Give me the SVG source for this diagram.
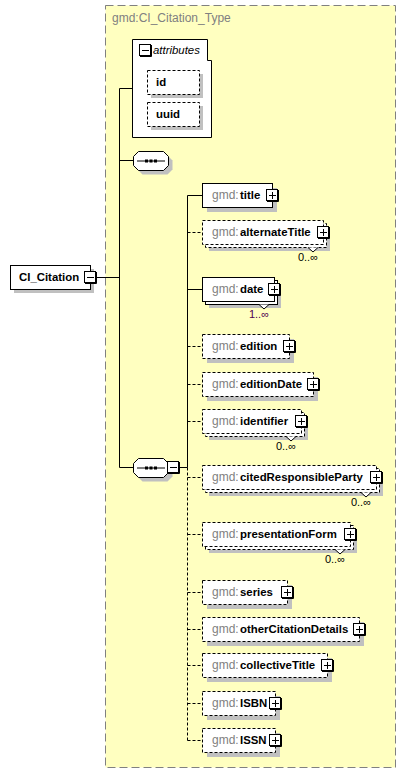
<svg xmlns="http://www.w3.org/2000/svg" xmlns:xlink="http://www.w3.org/1999/xlink" width="406" height="773" viewBox="0 0 406 773">
<style>
text{font-family:"Liberation Sans",Arial,sans-serif}
.sh{fill:#c0c0c0;stroke:none}
.box{fill:#fff;stroke:#000;stroke-width:1}
.dbox{fill:#fff;stroke:#000;stroke-width:1;stroke-dasharray:3,2}
.gmd{fill:#808080;font-size:12px}
.nm{fill:#000;font-size:11.4px;font-weight:bold}
.occ{fill:#000;font-size:11px}
.occ1{fill:#500050;font-size:11px}
.ln{stroke:#000;stroke-width:1;fill:none}
.dl{stroke:#000;stroke-width:1;fill:none;stroke-dasharray:3,2}
.v{fill:#fff;stroke:#000;stroke-width:1}
</style>
<defs>
<g id="plus">
<rect x="-5.5" y="-5.5" width="11" height="11" fill="#fff" stroke="#000"/>
<path d="M6.5,-5 V6.5 H-5" stroke="#000" fill="none"/>
<path d="M-3,0.5 H4 M0.5,-3 V4" stroke="#000" fill="none"/>
</g>
<g id="minus">
<rect x="-5.5" y="-5.5" width="11" height="11" fill="#fff" stroke="#000"/>
<path d="M6.5,-5 V6.5 H-5" stroke="#000" fill="none"/>
<path d="M-3,0.5 H4" stroke="#000" fill="none"/>
</g>
<path id="oct" d="M5.5,0.5 H30.5 L35.5,5.5 V14.5 L30.5,19.5 H5.5 L0.5,14.5 V5.5 Z"/>
<g id="seq">
<use xlink:href="#oct" x="4" y="4" fill="#c0c0c0"/>
<use xlink:href="#oct" fill="#fff" stroke="#000"/>
<path d="M4,10 H32" stroke="#000"/>
<rect x="12" y="8.5" width="3" height="3" fill="#000"/>
<rect x="16.5" y="8.5" width="3" height="3" fill="#000"/>
<rect x="21" y="8.5" width="3" height="3" fill="#000"/>
</g>
</defs>

<g id="type-container">
<rect x="105.5" y="5.5" width="290" height="762" fill="#ffffc0" stroke="#808080" stroke-dasharray="8,4"/>
<text x="112" y="22" class="gmd">gmd:CI_Citation_Type</text>
</g>

<g id="connectors">
<path class="ln" d="M96,277.5 H119.5 M119.5,88.5 V467.5 M119.5,88.5 H133 M119.5,160.5 H133 M119.5,467.5 H133 M178,467.5 H187.5 M187.5,195.5 V467.5"/>
<path class="dl" d="M187.5,467.5 V740.5"/>
<path class="ln" d="M187.5,195.5 H202 M187.5,289.5 H202"/>
<path class="dl" d="M187.5,232.5 H202 M187.5,346.5 H202 M187.5,384.5 H202 M187.5,421.5 H202 M187.5,477.5 H202 M187.5,534.5 H202 M187.5,592.5 H202 M187.5,629.5 H202 M187.5,665.5 H202 M187.5,703.5 H202 M187.5,740.5 H202"/>
</g>

<g id="CI_Citation">
<rect class="sh" x="14" y="269" width="80" height="24"/>
<rect class="box" x="10.5" y="265.5" width="80" height="24"/>
<text x="19" y="281" class="nm">CI_Citation</text>
<use xlink:href="#minus" x="90" y="277"/>
</g>

<g id="attributes">
<path d="M132.5,39.5 H207.5 V60.5 H211.5 V137.5 H132.5 Z" fill="#fff" stroke="#000"/>
<use xlink:href="#minus" x="145" y="50"/>
<text x="153" y="54" font-size="11.4" font-style="italic" fill="#000">attributes</text>
</g>
<g id="attr-id">
<rect class="sh" x="151" y="74" width="52" height="24"/>
<rect class="dbox" x="147.5" y="70.5" width="52" height="24"/>
<text x="156" y="86" class="nm">id</text>
</g>
<g id="attr-uuid">
<rect class="sh" x="151" y="106" width="52" height="24"/>
<rect class="dbox" x="147.5" y="102.5" width="52" height="24"/>
<text x="156" y="118" class="nm">uuid</text>
</g>

<g id="sequence1">
<use xlink:href="#seq" x="133" y="151"/>
</g>
<g id="sequence2">
<use xlink:href="#seq" x="133" y="458"/>
<use xlink:href="#minus" x="173" y="467"/>
</g>

<g id="n-title">
<rect class="sh" x="207" y="188" width="70" height="24"/>
<rect class="box" x="202.5" y="183.5" width="70" height="24"/>
<text x="212" y="199"><tspan class="gmd">gmd:</tspan><tspan class="nm" x="240">title</tspan></text>
<use xlink:href="#plus" x="272" y="195"/>
</g>

<g id="n-alternateTitle">
<rect class="sh" x="209" y="227" width="121" height="24"/>
<rect class="dbox" x="205.5" y="223.5" width="121" height="24"/>
<path class="v" d="M308,247.5 L313,252 L318,247.5"/>
<rect class="dbox" x="202.5" y="220.5" width="121" height="24"/>
<text x="212" y="236"><tspan class="gmd">gmd:</tspan><tspan class="nm" x="240">alternateTitle</tspan></text>
<use xlink:href="#plus" x="323" y="232"/>
<text x="318" y="261" class="occ" text-anchor="end">0..∞</text>
</g>

<g id="n-date">
<rect class="sh" x="209" y="284" width="72" height="24"/>
<rect class="box" x="205.5" y="280.5" width="72" height="24"/>
<path class="v" d="M259,304.5 L264,309 L269,304.5"/>
<rect class="box" x="202.5" y="277.5" width="72" height="24"/>
<text x="212" y="293"><tspan class="gmd">gmd:</tspan><tspan class="nm" x="240">date</tspan></text>
<use xlink:href="#plus" x="274" y="289"/>
<text x="269" y="318" class="occ1" text-anchor="end">1..∞</text>
</g>

<g id="n-edition">
<rect class="sh" x="207" y="339" width="87" height="24"/>
<rect class="dbox" x="202.5" y="334.5" width="87" height="24"/>
<text x="212" y="350"><tspan class="gmd">gmd:</tspan><tspan class="nm" x="240">edition</tspan></text>
<use xlink:href="#plus" x="289" y="346"/>
</g>

<g id="n-editionDate">
<rect class="sh" x="207" y="377" width="111" height="24"/>
<rect class="dbox" x="202.5" y="372.5" width="111" height="24"/>
<text x="212" y="388"><tspan class="gmd">gmd:</tspan><tspan class="nm" x="240">editionDate</tspan></text>
<use xlink:href="#plus" x="313" y="384"/>
</g>

<g id="n-identifier">
<rect class="sh" x="209" y="416" width="99" height="24"/>
<rect class="dbox" x="205.5" y="412.5" width="99" height="24"/>
<path class="v" d="M286,436.5 L291,441 L296,436.5"/>
<rect class="dbox" x="202.5" y="409.5" width="99" height="24"/>
<text x="212" y="425"><tspan class="gmd">gmd:</tspan><tspan class="nm" x="240">identifier</tspan></text>
<use xlink:href="#plus" x="301" y="421"/>
<text x="296" y="450" class="occ" text-anchor="end">0..∞</text>
</g>

<g id="n-citedResponsibleParty">
<rect class="sh" x="209" y="472" width="174" height="24"/>
<rect class="dbox" x="205.5" y="468.5" width="174" height="24"/>
<path class="v" d="M361,492.5 L366,497 L371,492.5"/>
<rect class="dbox" x="202.5" y="465.5" width="174" height="24"/>
<text x="212" y="481"><tspan class="gmd">gmd:</tspan><tspan class="nm" x="240">citedResponsibleParty</tspan></text>
<use xlink:href="#plus" x="376" y="477"/>
<text x="371" y="506" class="occ" text-anchor="end">0..∞</text>
</g>

<g id="n-presentationForm">
<rect class="sh" x="209" y="529" width="148" height="24"/>
<rect class="dbox" x="205.5" y="525.5" width="148" height="24"/>
<path class="v" d="M335,549.5 L340,554 L345,549.5"/>
<rect class="dbox" x="202.5" y="522.5" width="148" height="24"/>
<text x="212" y="538"><tspan class="gmd">gmd:</tspan><tspan class="nm" x="240">presentationForm</tspan></text>
<use xlink:href="#plus" x="350" y="534"/>
<text x="345" y="563" class="occ" text-anchor="end">0..∞</text>
</g>

<g id="n-series">
<rect class="sh" x="207" y="585" width="85" height="24"/>
<rect class="dbox" x="202.5" y="580.5" width="85" height="24"/>
<text x="212" y="596"><tspan class="gmd">gmd:</tspan><tspan class="nm" x="240">series</tspan></text>
<use xlink:href="#plus" x="287" y="592"/>
</g>

<g id="n-otherCitationDetails">
<rect class="sh" x="207" y="622" width="157" height="24"/>
<rect class="dbox" x="202.5" y="617.5" width="157" height="24"/>
<text x="212" y="633"><tspan class="gmd">gmd:</tspan><tspan class="nm" x="240">otherCitationDetails</tspan></text>
<use xlink:href="#plus" x="359" y="629"/>
</g>

<g id="n-collectiveTitle">
<rect class="sh" x="207" y="658" width="125" height="24"/>
<rect class="dbox" x="202.5" y="653.5" width="125" height="24"/>
<text x="212" y="669"><tspan class="gmd">gmd:</tspan><tspan class="nm" x="240">collectiveTitle</tspan></text>
<use xlink:href="#plus" x="327" y="665"/>
</g>

<g id="n-ISBN">
<rect class="sh" x="207" y="696" width="73" height="24"/>
<rect class="dbox" x="202.5" y="691.5" width="73" height="24"/>
<text x="212" y="707"><tspan class="gmd">gmd:</tspan><tspan class="nm" x="240">ISBN</tspan></text>
<use xlink:href="#plus" x="275" y="703"/>
</g>

<g id="n-ISSN">
<rect class="sh" x="207" y="733" width="73" height="24"/>
<rect class="dbox" x="202.5" y="728.5" width="73" height="24"/>
<text x="212" y="744"><tspan class="gmd">gmd:</tspan><tspan class="nm" x="240">ISSN</tspan></text>
<use xlink:href="#plus" x="275" y="740"/>
</g>
</svg>
